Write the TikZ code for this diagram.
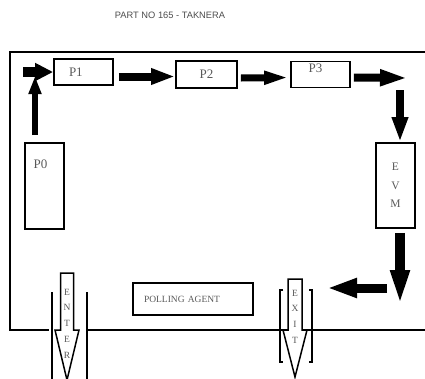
\documentclass[tikz,border=0pt]{standalone}
\usepackage{fontspec}
\setmainfont{Liberation Serif}
\newfontfamily\titlefont{Liberation Sans}
\usetikzlibrary{arrows.meta, positioning}

\tikzset{
  box/.style={draw, line width=1.8pt, inner sep=0pt, text=black!65},
  fat/.style n args={3}{line width=#1, -{Triangle[width=#2, length=#3]}},
  hollow/.style={draw, line width=1.5pt, fill=white},
  letters/.style={font=\fontsize{9.5}{15.7}\selectfont, align=center, text=black!65}
}

\begin{document}
\begin{tikzpicture}[
    x=1pt, y=-1pt, node distance=118pt,
    every node/.style={font=\fontsize{13}{14}\selectfont}
]
\useasboundingbox (0,0) rectangle (425,378);
% Title
\node (title) [font=\titlefont\fontsize{9.3}{10}\selectfont, text=black!70] at (170,15) {PART NO 165 - TAKNERA};
% Frame
\draw[line width=1.8pt] (425,52) -- (10,52) -- (10,330) -- (49,330);
\draw[line width=1.8pt] (87,330) -- (425,330);
% Define boxes
\node (p1) [box, minimum width=59pt, minimum height=26pt, text width=29pt, inner xsep=15pt, align=left] at (83.5,72) {P1};
\node (p2) [box, minimum width=61pt, minimum height=27pt, right of=p1, xshift=5pt, yshift=-2.5pt] {P2};
\node (p3) [box, minimum width=59pt, minimum height=26pt, right of=p2, xshift=-4pt,
  label={[label distance=-16pt, xshift=-5pt, text=black!65]north:P3}] {};
\node (p0) [box, minimum width=39pt, minimum height=86pt, at={(44.5,186)},
  label={[anchor=north west, xshift=6pt, yshift=-14pt, text=black!65]north west:P0}] {};
\node (evm) [box, minimum width=39pt, minimum height=85pt, align=center, font=\fontsize{11.5}{18.5}\selectfont] at (395.5,185.5) {E\\V\\M};
\node (agent) [box, minimum width=120pt, minimum height=32pt, text width=98pt, inner xsep=11pt, align=left, font=\fontsize{9.5}{10}\selectfont] at (193,299) {POLLING AGENT};
% Free ends
\coordinate (corner) at (35,76);
\coordinate (entry) at (23,72);
\coordinate (turn) at (408,78);
\coordinate (drop) at (400,90);
\coordinate (low) at (400,307);
\coordinate (back) at (387,288);
\coordinate (ahead) at (327,288);
% Draw arrows
\draw[fat={6pt}{12pt}{18pt}, shorten <=7pt] (p0.north -| corner) -- (corner);
\draw[fat={10pt}{17pt}{18pt}] (entry) -- (p1.west);
\draw[fat={8pt}{15pt}{24pt}] ([xshift=5pt, yshift=-4.5pt]p1.east) -- ([yshift=-2pt]p2.west);
\draw[fat={7pt}{12pt}{26pt}] ([xshift=3pt, yshift=-3.5pt]p2.east) -- ([yshift=-3pt]p3.west);
\draw[fat={8pt}{15pt}{28pt}] ([xshift=3pt, yshift=-3pt]p3.east) -- (turn);
\draw[fat={8pt}{15pt}{25pt}] (drop) -- (drop |- evm.north);
\draw[fat={10pt}{17pt}{37pt}, shorten <=4pt] (drop |- evm.south) -- (low);
\draw[fat={9pt}{18pt}{30pt}] (back) -- (ahead);
% Enter gate
\draw[hollow] (60.5,273) -- (73.5,273) -- (73.5,330) -- (79,330) -- (67,380) -- (55,330) -- (60.5,330) -- cycle;
\draw[line width=1.5pt] (52,292) -- (52,380);
\draw[line width=1.5pt] (87,292) -- (87,380);
\node (enter) [letters] at (67,323.5) {E\\N\\T\\E\\R};
% Exit gate
\draw[hollow] (288,279) -- (302,279) -- (302,330) -- (307,330) -- (295,377) -- (283,330) -- (288,330) -- cycle;
\draw[line width=1.5pt] (283,290) -- (280,290) -- (280,362) -- (283,362);
\draw[line width=1.5pt] (309,290) -- (312,290) -- (312,362) -- (309,362);
\node (exit) [letters] at (295,316.5) {E\\X\\I\\T};
\end{tikzpicture}
\end{document}
